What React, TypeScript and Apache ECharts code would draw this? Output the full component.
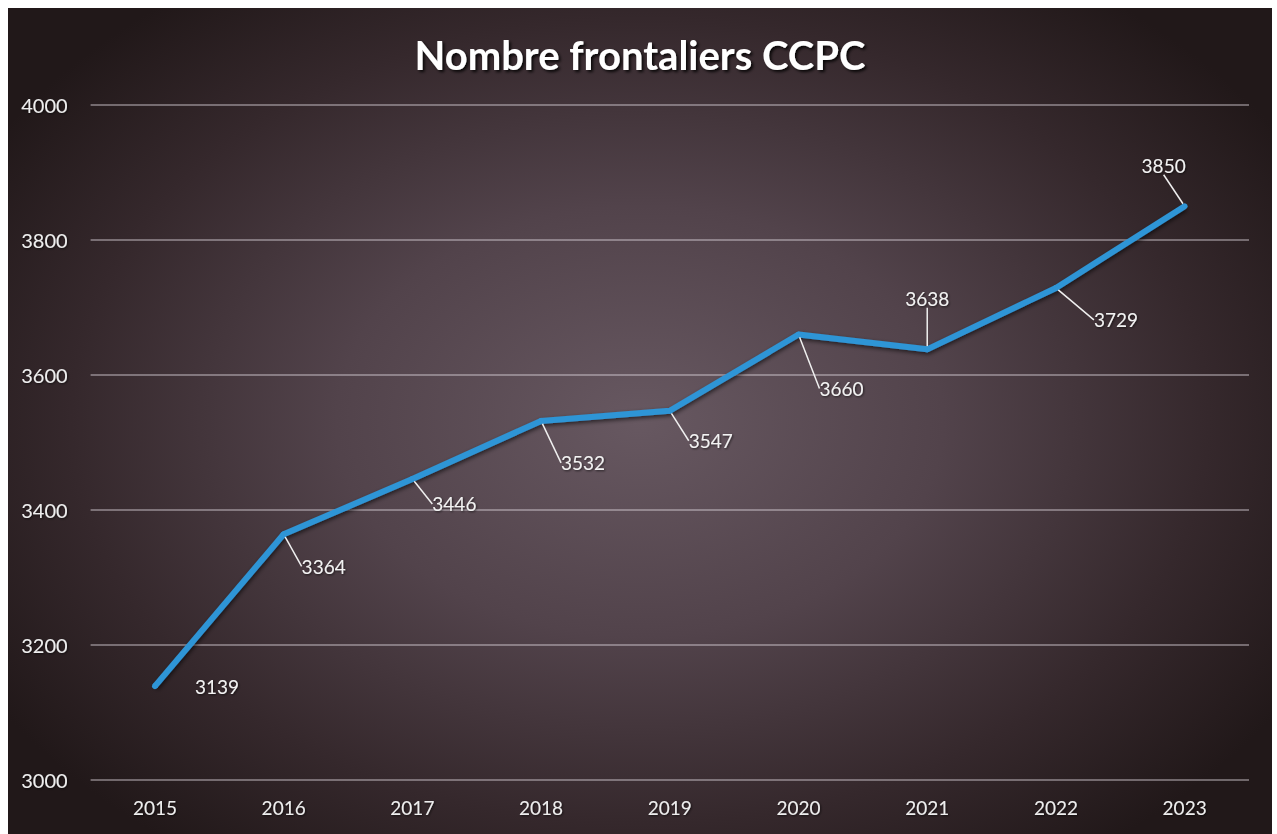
import React, { useEffect, useRef } from "react";
import * as echarts from "echarts";

const titleText = "Nombre frontaliers CCPC";
const years = ["2015", "2016", "2017", "2018", "2019", "2020", "2021", "2022", "2023"];
const values = [3139, 3364, 3446, 3532, 3547, 3660, 3638, 3729, 3850];
const yTicks = { min: 3000, max: 4000, interval: 200 };
// label offsets (dx, dy) relative to each point, as in the reference
const labelDx = [62, 40, 42, 42, 41, 43, 0, 60, -21];
const labelDy = [0, 32, 25, 42, 30, 54, -51, 32, -41];

const FONT = "Lato, 'Open Sans', sans-serif";

export default function App() {
  const ref = useRef<HTMLDivElement>(null);
  useEffect(() => {
    if (!ref.current) return;
    const chart = echarts.init(ref.current, undefined, { renderer: "svg" });
    const textShadow = {
      textShadowColor: "rgba(0,0,0,0.6)",
      textShadowBlur: 2,
      textShadowOffsetX: 1,
      textShadowOffsetY: 1,
    };
    chart.setOption({
      animation: false,
      backgroundColor: "transparent",
      title: {
        text: titleText,
        left: "center",
        top: 22,
        textStyle: {
          color: "#ffffff",
          fontFamily: FONT,
          fontWeight: "bold",
          fontSize: 40,
          textShadowColor: "rgba(0,0,0,0.85)",
          textShadowBlur: 3,
          textShadowOffsetX: 2,
          textShadowOffsetY: 2,
        },
      },
      grid: { left: 82.6, right: 23, top: 97, bottom: 54, containLabel: false },
      xAxis: {
        type: "category",
        data: years,
        boundaryGap: true,
        axisLine: { show: false },
        axisTick: { show: false },
        axisLabel: {
          color: "#eeeeee",
          fontFamily: FONT,
          fontSize: 19,
          margin: 18,
          ...textShadow,
        },
      },
      yAxis: {
        type: "value",
        min: yTicks.min,
        max: yTicks.max,
        interval: yTicks.interval,
        axisLine: { show: false },
        axisTick: { show: false },
        axisLabel: {
          color: "#eeeeee",
          fontFamily: FONT,
          fontSize: 20,
          margin: 23,
          formatter: (v: number) => String(v),
          ...textShadow,
        },
        splitLine: { lineStyle: { color: "rgba(225,220,225,0.55)", width: 1.5 } },
      },
      series: [
        {
          type: "line",
          data: values.map((v, i) => ({
            value: v,
            labelLine: { show: i !== 0 },
          })),
          symbol: "circle",
          symbolSize: 6,
          showSymbol: true,
          itemStyle: { color: "#2f95d6" },
          lineStyle: {
            color: "#2f95d6",
            width: 6,
            shadowColor: "rgba(0,0,0,0.6)",
            shadowBlur: 4,
            shadowOffsetX: 1,
            shadowOffsetY: 2,
          },
          label: {
            show: true,
            position: "inside",
            color: "#f2f2f2",
            fontFamily: FONT,
            fontSize: 19,
            ...textShadow,
          },
          labelLine: {
            show: true,
            lineStyle: { color: "#f0f0f0", width: 1.5 },
          },
          labelLayout: (p: any) => ({ dx: labelDx[p.dataIndex], dy: labelDy[p.dataIndex] }),
        },
      ],
    });
    return () => chart.dispose();
  }, []);
  return (
    <div
      ref={ref}
      style={{
        position: "fixed",
        left: 8,
        top: 8,
        width: 1264,
        height: 826,
        background:
          "radial-gradient(ellipse 60% 65% at 50% 50%, #675861 0%, #52434b 40%, #35282c 75%, #211819 100%)",
      }}
    />
  );
}
